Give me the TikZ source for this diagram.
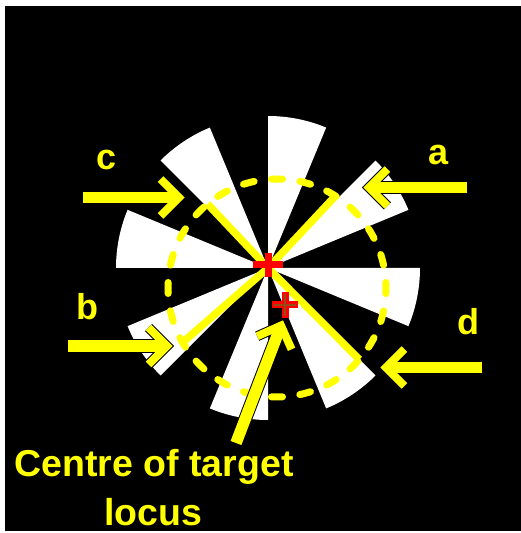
\documentclass[tikz,border=0pt]{standalone}
\usepackage{fontspec}
\setmainfont{Liberation Sans}
\usetikzlibrary{calc}
\definecolor{ylw}{RGB}{255,255,0}
\definecolor{crossred}{RGB}{255,0,0}
\definecolor{crossbrown}{RGB}{150,75,20}
\newcommand\yellowarrow[2]{%
  \draw[shaftout] (#1) -- ($(#2)!3pt!(#1)$);
  \draw[barbout] ($(#2)!26pt!45:(#1)$) -- (#2) -- ($(#2)!26pt!-45:(#1)$);
  \draw[shaftin] (#1) -- ($(#2)!3pt!(#1)$);
  \draw[barbin] ($(#2)!26pt!45:(#1)$) -- (#2) -- ($(#2)!26pt!-45:(#1)$);
}
\begin{document}
\begin{tikzpicture}[x=1pt,y=1pt,
  wedge/.style={fill=white},
  ring/.style={draw=ylw, line width=7pt, line cap=round, dash pattern=on 11pt off 17.536pt, dash phase=5.5pt},
  spoke/.style={draw=ylw, line width=7.5pt},
  shaftout/.style={draw=black, line width=13.5pt},
  shaftin/.style={draw=ylw, line width=11.5pt},
  barbout/.style={draw=black, line width=10pt, miter limit=10},
  barbin/.style={draw=ylw, line width=8pt, miter limit=10},
  crossout/.style={draw=crossred, line width=7pt},
  crossin/.style={draw=crossbrown, line width=2.5pt},
  lbl/.style={text=ylw, font=\bfseries\fontsize{36}{36}\selectfont, inner sep=0pt, anchor=base},
  captext/.style={text=ylw, font=\bfseries\fontsize{37.5}{50}\selectfont, inner sep=0pt, anchor=base},
]
\useasboundingbox (0,0) rectangle (521,533);
\fill[white] (0,0) rectangle (521,533);
\fill[black] (5,2) rectangle (521,527);
% pinwheel
\coordinate (P) at (268,265);
\foreach \k in {1,...,8}
  \fill[wedge] (P) -- ++({\k*45-22.5}:152) arc[start angle={\k*45-22.5}, end angle={\k*45}, radius=152] -- cycle;
% dashed locus circle
\coordinate (O) at (277,245);
\draw[ring] (O) circle[radius=109];
% spokes
\coordinate (s1) at ($(O)+(129.6:109)$);
\coordinate (s2) at ($(O)+(57.6:109)$);
\coordinate (s3) at ($(O)+(210:109)$);
\coordinate (s4) at ($(O)+(-41:109)$);
\foreach \s in {s1,s2,s3,s4} \draw[spoke] (P) -- (\s);
% arrows
\coordinate (cS) at (83,335.5);  \coordinate (cT) at (179,335.5);
\coordinate (aS) at (467,345.5); \coordinate (aT) at (369,345.5);
\coordinate (bS) at (68,187);    \coordinate (bT) at (167,187);
\coordinate (dS) at (482,165.5); \coordinate (dT) at (386,165.5);
\coordinate (mS) at (236,90);    \coordinate (mT) at (281,207.4);
\yellowarrow{cS}{cT}
\yellowarrow{aS}{aT}
\yellowarrow{bS}{bT}
\yellowarrow{dS}{dT}
\yellowarrow{mS}{mT}
% crosses
\coordinate (X1) at (268,268);
\draw[crossout] ($(X1)+(-15,0)$) -- ($(X1)+(15,0)$) ($(X1)+(0,-12)$) -- ($(X1)+(0,12)$);
\coordinate (X2) at (285,228);
\draw[crossout] ($(X2)+(-13,0)$) -- ($(X2)+(13,0)$) ($(X2)+(0,-13)$) -- ($(X2)+(0,13)$);
\draw[crossin] ($(X2)+(-11,0)$) -- ($(X2)+(11,0)$) ($(X2)+(0,-11)$) -- ($(X2)+(0,11)$);
% labels
\node[lbl] (la) at (439,368) {a};
\node[lbl] (lc) at (107,363.5) {c};
\node[lbl] (lb) at (87,213) {b};
\node[lbl] (ld) at (468,198) {d};
\node[captext] (cap1) at (154,56) {Centre of target};
\node[captext] (cap2) at (153.5,8) {locus};
\end{tikzpicture}
\end{document}
